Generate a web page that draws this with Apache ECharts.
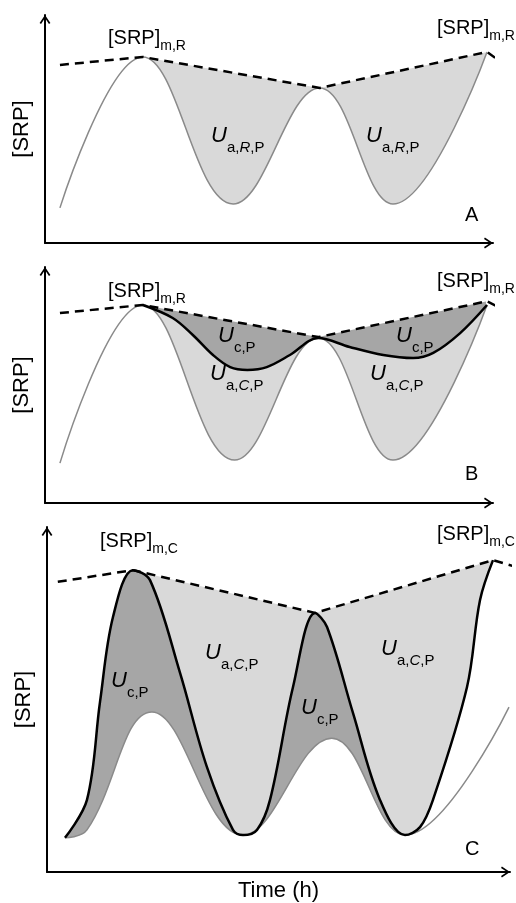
<!DOCTYPE html>
<html>
<head>
<meta charset="utf-8">
<script src="https://cdn.jsdelivr.net/npm/echarts@6/dist/echarts.min.js"></script>
<style>
  html, body { margin: 0; padding: 0; background: #fff; }
  #chart { width: 516px; height: 903px; }
</style>
</head>
<body>
<div id="chart"></div>
<script>
// time (h) on x, [SRP] (arbitrary units 0-10) on y

// panel A
const grayA = [[2.0, 1.54], [13.1, 8.16], [25.2, 1.71], [36.8, 6.80], [46.6, 1.71], [59.2, 8.38]];
const envA = [[2.0, 7.81], [13.1, 8.16], [36.8, 6.80], [59.2, 8.38], [60.9, 7.98]];

// panel B
const grayB = [[2.0, 1.69], [13.1, 8.39], [25.4, 1.82], [36.6, 6.99], [46.6, 1.82], [59.2, 8.39]];
const blackB = [[13.1, 8.39], [17.1, 7.84], [19.8, 7.12], [22.5, 6.27], [24.8, 5.76], [27.1, 5.64],
  [29.7, 5.76], [32.8, 6.27], [36.6, 6.99], [40.8, 6.61], [45.3, 6.27], [49.3, 6.14], [52.0, 6.36],
  [55.6, 7.20], [59.2, 8.39]];
const envB = [[2.0, 8.05], [13.1, 8.39], [36.6, 7.03], [59.2, 8.55], [61.2, 8.22]];

// panel C
const grayC = [[2.33, 0.99], [5.18, 1.22], [13.6, 4.64], [25.4, 1.07], [36.9, 3.88], [46.39, 1.07], [59.87, 4.78]];
const blackC = [[2.33, 0.99], [5.18, 2.09], [6.87, 4.93], [8.55, 7.39], [11.14, 8.75], [13.35, 8.46],
  [17.24, 5.77], [20.73, 3.04], [24.10, 1.22], [25.40, 1.07], [27.21, 1.22], [28.90, 2.09],
  [31.88, 5.36], [34.73, 7.51], [36.29, 7.10], [39.65, 4.61], [43.15, 2.09], [46.39, 1.07],
  [48.34, 1.30], [50.02, 2.09], [54.43, 5.36], [56.11, 7.88], [57.80, 9.04]];
const envC = [[1.4, 8.41], [11.14, 8.75], [34.73, 7.51], [57.80, 9.04], [60.8, 8.84]];
const troughC2 = 17; // index in blackC of the second trough

const FONT = 'Liberation Sans, Arial, sans-serif';
const LIGHT = '#d9d9d9';
const DARK = '#a6a6a6';
const GRAYLINE = '#8a8a8a';
const ARROW = 'path://M0,9 L6,0 L12,9 L10.4,10 L6,3.2 L1.6,10 Z';
const SM = 0.4;

const chart = echarts.init(document.getElementById('chart'));

function axisLine() {
  return {
    show: true, onZero: false,
    lineStyle: { color: '#000', width: 2 },
    symbol: ['none', ARROW], symbolSize: [11, 9], symbolOffset: [0, -4.5]
  };
}
function xAx(i, extra) {
  return Object.assign({
    gridIndex: i, type: 'value', min: 0, max: 60, z: 10,
    axisLine: axisLine(), axisTick: { show: false }, axisLabel: { show: false }, splitLine: { show: false }
  }, extra || {});
}
function yAx(i) {
  return {
    gridIndex: i, type: 'value', min: 0, max: 10, z: 10,
    name: '[SRP]', nameLocation: 'middle', nameRotate: 90, nameGap: 12,
    nameTextStyle: { fontSize: 22, color: '#000', fontFamily: FONT },
    axisLine: axisLine(), axisTick: { show: false }, axisLabel: { show: false }, splitLine: { show: false }
  };
}
// horizontal fill, white at the very edges (hides seams) and after `cut` if given
function band(color, cut) {
  const e = 0.004;
  const end = cut == null ? 1 - e : cut;
  return new echarts.graphic.LinearGradient(0, 0, 1, 0, [
    { offset: 0, color: '#fff' }, { offset: e, color: '#fff' },
    { offset: e, color: color }, { offset: end, color: color },
    { offset: end, color: '#fff' }, { offset: 1, color: '#fff' }
  ]);
}
function area(i, data, fill, smooth, z) {
  return {
    type: 'line', xAxisIndex: i, yAxisIndex: i, data: data, smooth: smooth, z: z,
    symbol: 'none', silent: true, lineStyle: { opacity: 0 },
    areaStyle: { color: fill, opacity: 1 }
  };
}
function line(i, data, color, width, smooth, z, dashed) {
  return {
    type: 'line', xAxisIndex: i, yAxisIndex: i, data: data, smooth: smooth, z: z,
    symbol: 'none', silent: true, clip: false,
    lineStyle: { color: color, width: width, type: dashed ? [9, 6] : 'solid' }
  };
}

const cFirst = blackC[0][0], cLast = blackC[blackC.length - 1][0];
const splitC = (blackC[troughC2][0] - cFirst) / (cLast - cFirst);

const series = [
  // A
  area(0, envA.slice(1, 4), band(LIGHT), false, 1),
  area(0, grayA, '#fff', SM, 2),
  line(0, grayA, GRAYLINE, 1.5, SM, 3),
  line(0, envA, '#000', 2.5, false, 5, true),
  // B
  area(1, envB.slice(1, 4), band(DARK), false, 1),
  area(1, blackB, band(LIGHT), 0.35, 2),
  area(1, grayB, '#fff', SM, 3),
  line(1, grayB, GRAYLINE, 1.5, SM, 4),
  line(1, blackB, '#000', 2.5, 0.35, 5),
  line(1, envB, '#000', 2.5, false, 6, true),
  // C
  area(2, envC.slice(1, 4), band(LIGHT), false, 1),
  area(2, blackC, band(DARK, splitC), 0.35, 2),
  area(2, grayC, '#fff', SM, 3),
  line(2, grayC, GRAYLINE, 1.5, SM, 4),
  line(2, blackC, '#000', 2.5, 0.35, 5),
  line(2, envC, '#000', 2.5, false, 6, true)
];

const rich = {
  m: { fontSize: 20, lineHeight: 24, verticalAlign: 'top', fontFamily: FONT, fill: '#000' },
  s: { fontSize: 14, verticalAlign: 'bottom', padding: [11, 0, 0, 0], fontFamily: FONT, fill: '#000' },
  u: { fontSize: 22, lineHeight: 26, fontStyle: 'italic', verticalAlign: 'top', fontFamily: FONT, fill: '#000' },
  us: { fontSize: 15, verticalAlign: 'bottom', padding: [15, 0, 0, 0], fontFamily: FONT, fill: '#000' },
  ui: { fontSize: 15, fontStyle: 'italic', verticalAlign: 'bottom', padding: [15, 0, 0, 0], fontFamily: FONT, fill: '#000' }
};
function txt(x, y, text) {
  return { type: 'text', x: x, y: y, z: 100, silent: true,
    style: { text: text, rich: rich, align: 'left', verticalAlign: 'top', fontFamily: FONT, fill: '#000' } };
}
function letter(x, y, t) {
  return { type: 'text', x: x, y: y, z: 100, silent: true,
    style: { text: t, fontSize: 20, fontFamily: FONT, fill: '#000', verticalAlign: 'top' } };
}
const srpR = '{m|[SRP]}{s|m,R}';
const srpC = '{m|[SRP]}{s|m,C}';
const uaR = '{u|U}{us|a,}{ui|R}{us|,P}';
const uaC = '{u|U}{us|a,}{ui|C}{us|,P}';
const uc = '{u|U}{us|c,P}';

chart.setOption({
  animation: false,
  backgroundColor: '#fff',
  grid: [
    { left: 45, top: 15, width: 448, height: 228 },
    { left: 45, top: 267, width: 448, height: 236 },
    { left: 47, top: 527, width: 463, height: 345 }
  ],
  xAxis: [xAx(0), xAx(1), xAx(2, {
    name: 'Time (h)', nameLocation: 'middle', nameGap: 8,
    nameTextStyle: { fontSize: 22, color: '#000', fontFamily: FONT, verticalAlign: 'top' }
  })],
  yAxis: [yAx(0), yAx(1), yAx(2)],
  series: series,
  graphic: [
    txt(108, 28, srpR), txt(437, 18, srpR),
    txt(211, 125, uaR), txt(366, 125, uaR),
    letter(465, 205, 'A'),
    txt(108, 281, srpR), txt(437, 271, srpR),
    txt(218, 325, uc), txt(396, 325, uc),
    txt(210, 363, uaC), txt(370, 363, uaC),
    letter(465, 464, 'B'),
    txt(100, 531, srpC), txt(437, 524, srpC),
    txt(205, 642, uaC), txt(381, 638, uaC),
    txt(111, 670, uc), txt(301, 697, uc),
    letter(465, 839, 'C')
  ]
});
</script>
</body>
</html>
